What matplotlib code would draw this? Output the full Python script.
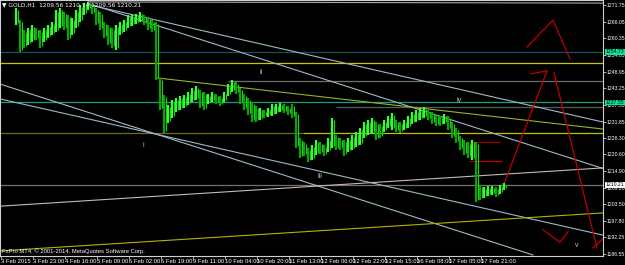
import matplotlib
matplotlib.use("Agg")
import matplotlib.pyplot as plt
import numpy as np

W, H = 625, 265
# ---------------- data ----------------
price_ticks = [1271.75, 1266.05, 1260.35, 1254.65, 1248.95, 1243.25, 1237.55, 1231.85,
               1226.30, 1220.60, 1214.90, 1209.20, 1203.50, 1197.80, 1192.25, 1186.55]
time_labels = ["3 Feb 2015", "3 Feb 23:00", "4 Feb 16:00", "5 Feb 09:00", "6 Feb 02:00",
               "6 Feb 19:00", "9 Feb 11:00", "10 Feb 04:00", "10 Feb 20:00", "11 Feb 13:00",
               "12 Feb 06:00", "12 Feb 22:00", "13 Feb 15:00", "16 Feb 08:00", "17 Feb 05:00",
               "17 Feb 21:00"]
time_tick_bars = [0.5 + 16 * i for i in range(len(time_labels))]

# candle columns (2 hourly bars each): highs and lows
highs = [1270.7, 1266.6, 1263.2, 1263.9, 1264.9, 1263.9, 1263.2, 1263.9, 1264.9, 1265.9,
         1270.0, 1270.7, 1269.4, 1268.3, 1267.3, 1270.0, 1271.7, 1272.4, 1272.8, 1272.1,
         1270.7, 1269.4, 1265.9, 1264.9, 1263.9, 1264.9, 1265.9, 1266.6, 1268.3, 1268.3,
         1268.7, 1269.4, 1268.3, 1267.6, 1266.6, 1265.9, 1246.8, 1241.0, 1237.5, 1239.2,
         1239.9, 1240.6, 1241.0, 1242.0, 1243.3, 1244.0, 1242.7, 1242.0, 1241.3, 1242.0,
         1241.3, 1240.6, 1242.0, 1244.7, 1246.1, 1245.4, 1243.3, 1241.3, 1239.9, 1238.6,
         1237.2, 1236.5, 1235.8, 1236.5, 1237.9, 1237.9, 1238.2, 1237.9, 1237.2, 1237.9,
         1235.1, 1226.2, 1224.9, 1222.8, 1223.8, 1225.6, 1224.9, 1223.8, 1226.2, 1233.1,
         1227.3, 1226.2, 1225.6, 1226.2, 1227.3, 1228.3, 1229.7, 1231.7, 1232.4, 1233.1,
         1231.7, 1231.0, 1232.4, 1233.8, 1234.8, 1232.4, 1231.7, 1232.4, 1233.8, 1235.1,
         1235.8, 1236.5, 1236.8, 1235.8, 1235.1, 1234.4, 1233.8, 1234.4, 1233.8, 1231.7,
         1229.7, 1226.9, 1225.6, 1224.9, 1225.6, 1224.9, 1210.2, 1209.5, 1209.8, 1209.8,
         1209.5, 1210.2, 1210.8]
lows = [1264.9, 1255.7, 1257.0, 1258.1, 1259.1, 1259.8, 1257.0, 1259.1, 1260.5, 1261.5,
        1262.5, 1263.9, 1263.2, 1259.8, 1261.5, 1263.9, 1265.9, 1268.3, 1270.0, 1268.7,
        1264.9, 1263.2, 1260.5, 1258.1, 1257.0, 1256.4, 1261.5, 1262.5, 1263.9, 1264.6,
        1265.2, 1265.9, 1264.9, 1263.2, 1262.5, 1246.1, 1235.8, 1227.9, 1231.4, 1233.1,
        1235.1, 1235.8, 1236.5, 1237.5, 1238.6, 1239.2, 1236.5, 1235.8, 1237.9, 1238.6,
        1237.9, 1237.2, 1238.6, 1240.6, 1242.0, 1241.3, 1237.9, 1235.8, 1234.1, 1231.7,
        1231.7, 1232.4, 1233.1, 1233.4, 1233.8, 1234.4, 1235.1, 1234.8, 1234.1, 1233.1,
        1222.8, 1219.4, 1220.1, 1218.0, 1218.7, 1220.4, 1220.8, 1220.1, 1221.5, 1222.8,
        1222.1, 1222.1, 1220.1, 1221.5, 1222.1, 1223.2, 1223.8, 1226.2, 1227.3, 1227.6,
        1225.6, 1226.2, 1228.3, 1229.7, 1229.0, 1228.3, 1227.9, 1229.0, 1229.7, 1231.0,
        1231.7, 1232.4, 1233.1, 1232.4, 1231.0, 1230.3, 1230.3, 1231.0, 1229.0, 1226.2,
        1224.5, 1222.1, 1220.4, 1219.4, 1218.7, 1204.3, 1205.0, 1205.7, 1206.4, 1206.7,
        1206.0, 1207.1, 1208.4]
first_bar = 8
bars_per_col = 2

# horizontal levels: (price, start bar, end bar, color)
hlines = [
    (1255.80, 0, 302, "#0b5a44"),
    (1251.90, 0, 302, "#c8c800"),
    (1245.70, 114, 302, "#6e6e6e"),
    (1238.40, 0, 302, "#16a07e"),
    (1236.80, 168, 302, "#5a5a5a"),
    (1227.90, 0, 151.5, "#6c6c10"),
    (1227.90, 151.5, 302, "#c0c000"),
    (1210.21, 0, 302, "#707070"),
    (1224.90, 236.5, 250, "#a00000"),
    (1218.40, 234.5, 251, "#c00000"),
]
# trend lines: ((bar0, price0), (bar1, price1), color)
tlines = [
    ((44, 1272.8), (301.5, 1272.4), "#a8a8a8"),
    ((44, 1271.9), (301.5, 1231.7), "#9fb8c8"),
    ((44, 1272.3), (301.5, 1215.8), "#9fb8c8"),
    ((0, 1239.6), (301.5, 1193.0), "#9fb8c8"),
    ((0, 1244.7), (266.5, 1186.2), "#9fb8c8"),
    ((78.5, 1246.8), (301.5, 1229.3), "#9ab41e"),
    ((0, 1187.6), (301.5, 1200.6), "#b4b400"),
    ((0, 1202.9), (301.5, 1216.0), "#c8b8b8"),
]
red_paths = [
    [(251.5, 1209.5), (273.5, 1249.2)],
    [(265.5, 1248.2), (273.5, 1249.2)],
    [(277, 1248.5), (298.5, 1188.6)],
    [(296.5, 1188.6), (302.5, 1192.4)],
    [(263.5, 1257.4), (276.5, 1266.6), (285, 1253.3)],
    [(271.5, 1194.8), (280, 1190.6), (284, 1194.1)],
]
wave_labels = [("i", 71.5, 1223.8), ("ii", 130.5, 1248.8), ("iii", 160, 1213.2),
               ("iv", 229.5, 1239.2), ("v", 288.5, 1189.3)]

# ---------------- figure ----------------
FONT = ["Liberation Sans Narrow", "Liberation Sans", "DejaVu Sans"]
plt.rcParams["font.family"] = FONT
DPI = 100
fig = plt.figure(figsize=(W / DPI, H / DPI), dpi=DPI, facecolor="black")
ax_px = (0, 9, 603, 256)  # left, bottom (from bottom), width, height in px
ax = fig.add_axes([ax_px[0] / W, ax_px[1] / H, ax_px[2] / W, ax_px[3] / H])
ax.set_facecolor("black")
ytop, ybot = 1273.46, 1273.46 - 0.3422 * 256
ax.set_xlim(0, 301.5)
ax.set_ylim(ybot, ytop)

for p, x0, x1, c in hlines:
    ax.plot([x0, x1], [p, p], color=c, lw=0.9, solid_capstyle="butt")
for (x0, y0), (x1, y1), c in tlines:
    ax.plot([x0, x1], [y0, y1], color=c, lw=0.8)
for path in red_paths:
    xs, ys = zip(*path)
    ax.plot(xs, ys, color="#c00000", lw=0.9)

xs = first_bar + bars_per_col * np.arange(len(highs))
mids = (np.array(highs) + np.array(lows)) / 2
prev = np.concatenate([[mids[0]], mids[:-1]])
cols = np.where(mids >= prev, "#30ff30", "#00a800")
ax.vlines(xs, lows, highs, colors=cols, lw=1.6)
ax.vlines(xs + 0.9, np.array(lows) + 0.6, np.array(highs) - 0.6, colors="#18d018", lw=0.8)

for t, x, y in wave_labels:
    ax.text(x, y, t, color="#c8c8c8", fontsize=5, ha="center", va="center")

FS = 4.2
YFS = 3.7
for s in ax.spines.values():
    s.set_color("#d0d0d0")
    s.set_linewidth(0.8)
ax.yaxis.tick_right()
ax.set_yticks(price_ticks)
ax.set_yticklabels([f"{v:.2f}" for v in price_ticks])
ax.tick_params(axis="y", colors="#d0d0d0", labelcolor="white", labelsize=YFS,
               length=2, width=0.6, pad=0.6)
ax.set_xticks(time_tick_bars)
ax.set_xticklabels(time_labels)
for lab in ax.get_xticklabels():
    lab.set_horizontalalignment("left")
ax.tick_params(axis="x", colors="#d0d0d0", labelcolor="white", labelsize=FS,
               length=2, width=0.6, pad=0.5)

def tag(p, txt, fc):
    ax.text(1.0045, p, txt, transform=ax.get_yaxis_transform(), fontsize=YFS,
            color="black", ha="left", va="center",
            bbox=dict(boxstyle="square,pad=0.08", fc=fc, ec="none"))
tag(1255.80, "1254.73", "#00e8a0")
tag(1238.40, "1237.55", "#00e8a0")
tag(1210.21, "1210.21", "white")

ax.text(0.004, 0.993, "\u25bc GOLD,H1  1209.56 1210.74 1209.56 1210.21", transform=ax.transAxes,
        color="white", fontsize=FS, ha="left", va="top",
        family=["Liberation Sans Narrow", "DejaVu Sans"])
ax.text(0.004, 0.006, "FxPro MT4, \u00a9 2001-2014, MetaQuotes Software Corp.", transform=ax.transAxes,
        color="white", fontsize=FS, ha="left", va="bottom")

fig.savefig("out.png", dpi=DPI, facecolor="black")
